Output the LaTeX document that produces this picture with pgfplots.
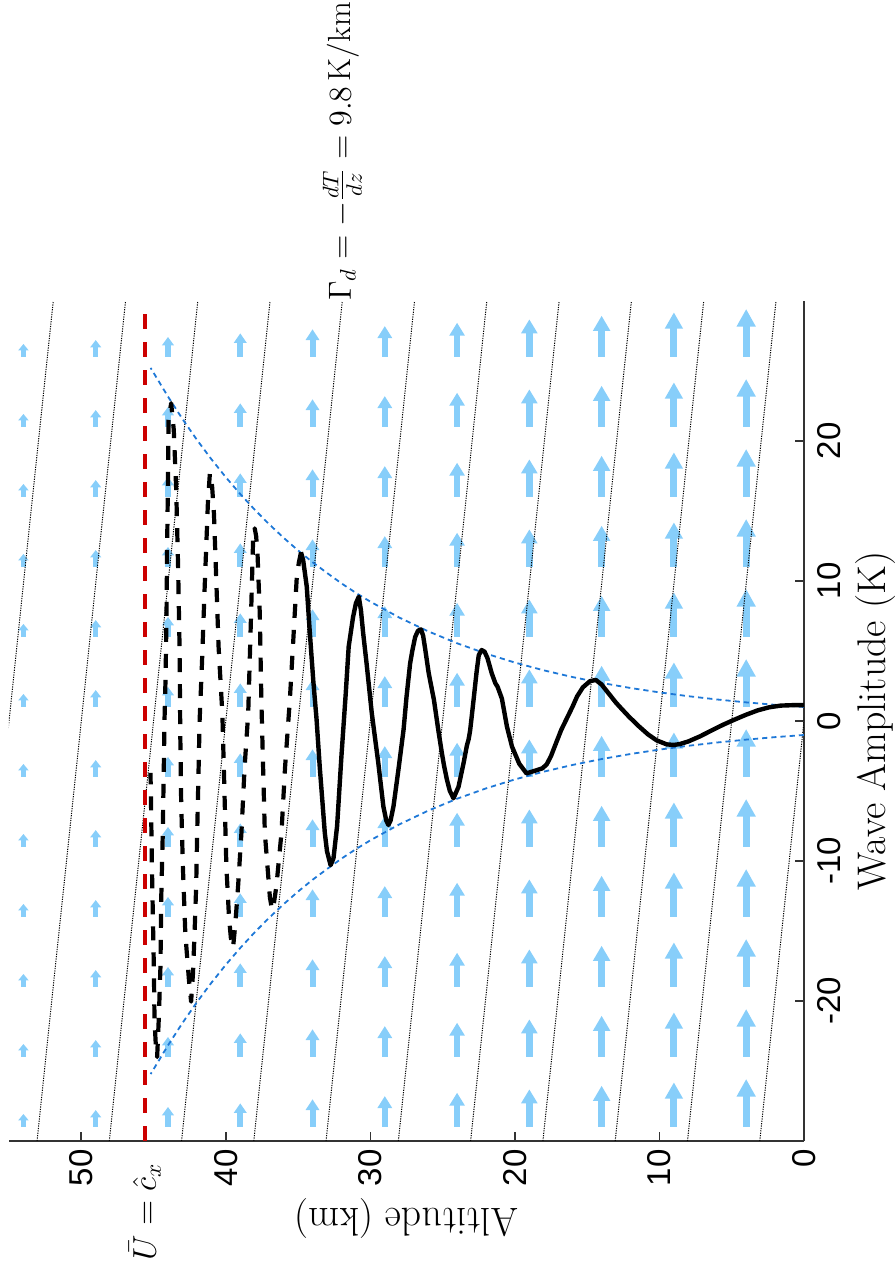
\RequirePackage{fix-cm}
\documentclass[border=0pt]{standalone}
\usepackage{fontspec}
\usepackage{pgfplots}
\pgfplotsset{compat=1.18}
\usetikzlibrary{arrows.meta}
\newfontfamily\tickfont{Liberation Sans}
\definecolor{arrowblue}{RGB}{135,206,250}
\definecolor{envblue}{RGB}{30,120,215}
\definecolor{critred}{RGB}{204,0,0}
\begin{document}
\begin{tikzpicture}
\begin{axis}[
  width=397.5pt, height=420pt, scale only axis,
  xmin=0, xmax=55, ymin=-30, ymax=30,
  x dir=reverse,
  axis x line*=bottom, axis y line*=right,
  axis line style={black!80, line width=0.8pt},
  tick align=inside, major tick length=4.5pt,
  tick style={black!80, line width=0.8pt},
  xtick={0,10,20,30,40,50}, xticklabels={0,10,20,30,40,50},
  ytick={-20,-10,0,10,20}, yticklabels={-20,-10,0,10,20},
  xticklabel style={font=\fontsize{16.5}{19}\selectfont\tickfont, rotate=90, anchor=east, inner xsep=4pt, inner ysep=0pt},
  yticklabel style={font=\fontsize{16.5}{19}\selectfont\tickfont, rotate=90, anchor=north, inner ysep=6.5pt, inner xsep=0pt},
]
% quiver arrows (base altitude, base amplitude), constant length per column
\addplot[arrowblue, line width=3.6pt, quiver={u=0,v=3.43, every arrow/.append style={line width=3.6pt, -{Triangle[length=8.8pt 0 0,width=9pt 0 0]}}}] coordinates {(4,26)(4,21)(4,16)(4,11)(4,6)(4,1)(4,-4)(4,-9)(4,-14)(4,-19)(4,-24)(4,-29)};
\addplot[arrowblue, line width=3.5pt, quiver={u=0,v=3.19, every arrow/.append style={line width=3.5pt, -{Triangle[length=8.2pt 0 0,width=8.6pt 0 0]}}}] coordinates {(9,26)(9,21)(9,16)(9,11)(9,6)(9,1)(9,-4)(9,-9)(9,-14)(9,-19)(9,-24)(9,-29)};
\addplot[arrowblue, line width=3.4pt, quiver={u=0,v=2.95, every arrow/.append style={line width=3.4pt, -{Triangle[length=7.6pt 0 0,width=8.2pt 0 0]}}}] coordinates {(14,26)(14,21)(14,16)(14,11)(14,6)(14,1)(14,-4)(14,-9)(14,-14)(14,-19)(14,-24)(14,-29)};
\addplot[arrowblue, line width=3.3pt, quiver={u=0,v=2.69, every arrow/.append style={line width=3.3pt, -{Triangle[length=7.0pt 0 0,width=7.8pt 0 0]}}}] coordinates {(19,26)(19,21)(19,16)(19,11)(19,6)(19,1)(19,-4)(19,-9)(19,-14)(19,-19)(19,-24)(19,-29)};
\addplot[arrowblue, line width=3.2pt, quiver={u=0,v=2.45, every arrow/.append style={line width=3.2pt, -{Triangle[length=6.5pt 0 0,width=7.4pt 0 0]}}}] coordinates {(24,26)(24,21)(24,16)(24,11)(24,6)(24,1)(24,-4)(24,-9)(24,-14)(24,-19)(24,-24)(24,-29)};
\addplot[arrowblue, line width=3.1pt, quiver={u=0,v=2.21, every arrow/.append style={line width=3.1pt, -{Triangle[length=6.0pt 0 0,width=7.0pt 0 0]}}}] coordinates {(29,26)(29,21)(29,16)(29,11)(29,6)(29,1)(29,-4)(29,-9)(29,-14)(29,-19)(29,-24)(29,-29)};
\addplot[arrowblue, line width=3.0pt, quiver={u=0,v=1.98, every arrow/.append style={line width=3.0pt, -{Triangle[length=5.4pt 0 0,width=6.6pt 0 0]}}}] coordinates {(34,26)(34,21)(34,16)(34,11)(34,6)(34,1)(34,-4)(34,-9)(34,-14)(34,-19)(34,-24)(34,-29)};
\addplot[arrowblue, line width=2.9pt, quiver={u=0,v=1.69, every arrow/.append style={line width=2.9pt, -{Triangle[length=4.8pt 0 0,width=6.2pt 0 0]}}}] coordinates {(39,26)(39,21)(39,16)(39,11)(39,6)(39,1)(39,-4)(39,-9)(39,-14)(39,-19)(39,-24)(39,-29)};
\addplot[arrowblue, line width=2.8pt, quiver={u=0,v=1.43, every arrow/.append style={line width=2.8pt, -{Triangle[length=4.2pt 0 0,width=5.8pt 0 0]}}}] coordinates {(44,26)(44,21)(44,16)(44,11)(44,6)(44,1)(44,-4)(44,-9)(44,-14)(44,-19)(44,-24)(44,-29)};
\addplot[arrowblue, line width=2.7pt, quiver={u=0,v=1.21, every arrow/.append style={line width=2.7pt, -{Triangle[length=3.7pt 0 0,width=5.4pt 0 0]}}}] coordinates {(49,26)(49,21)(49,16)(49,11)(49,6)(49,1)(49,-4)(49,-9)(49,-14)(49,-19)(49,-24)(49,-29)};
\addplot[arrowblue, line width=2.6pt, quiver={u=0,v=0.93, every arrow/.append style={line width=2.6pt, -{Triangle[length=3.2pt 0 0,width=5.0pt 0 0]}}}] coordinates {(54,26)(54,21)(54,16)(54,11)(54,6)(54,1)(54,-4)(54,-9)(54,-14)(54,-19)(54,-24)(54,-29)};
% dry adiabats (dotted)
\addplot[black, line width=0.5pt, dash pattern=on 0.6pt off 0.6pt] coordinates {(3.061,-30)(-3.061,30)};
\addplot[black, line width=0.5pt, dash pattern=on 0.6pt off 0.6pt] coordinates {(8.061,-30)(1.939,30)};
\addplot[black, line width=0.5pt, dash pattern=on 0.6pt off 0.6pt] coordinates {(13.061,-30)(6.939,30)};
\addplot[black, line width=0.5pt, dash pattern=on 0.6pt off 0.6pt] coordinates {(18.061,-30)(11.939,30)};
\addplot[black, line width=0.5pt, dash pattern=on 0.6pt off 0.6pt] coordinates {(23.061,-30)(16.939,30)};
\addplot[black, line width=0.5pt, dash pattern=on 0.6pt off 0.6pt] coordinates {(28.061,-30)(21.939,30)};
\addplot[black, line width=0.5pt, dash pattern=on 0.6pt off 0.6pt] coordinates {(33.061,-30)(26.939,30)};
\addplot[black, line width=0.5pt, dash pattern=on 0.6pt off 0.6pt] coordinates {(38.061,-30)(31.939,30)};
\addplot[black, line width=0.5pt, dash pattern=on 0.6pt off 0.6pt] coordinates {(43.061,-30)(36.939,30)};
\addplot[black, line width=0.5pt, dash pattern=on 0.6pt off 0.6pt] coordinates {(48.061,-30)(41.939,30)};
\addplot[black, line width=0.5pt, dash pattern=on 0.6pt off 0.6pt] coordinates {(53.061,-30)(46.939,30)};
\addplot[black, line width=0.5pt, dash pattern=on 0.6pt off 0.6pt] coordinates {(58.061,-30)(51.939,30)};
% envelopes
\addplot[envblue, line width=0.9pt, dash pattern=on 2.6pt off 2pt] coordinates {(0,1)(2,1.1536)(4,1.3307)(6,1.5352)(8,1.7710)(10,2.0430)(12,2.3568)(14,2.7183)(16,3.1357)(18,3.6173)(20,4.1730)(22,4.8138)(24,5.5531)(26,6.4059)(28,7.3891)(30,8.5238)(31,9.150)(32,9.8329)(33,10.575)(34,11.343)(35,12.182)(36,13.085)(37,14.054)(38,15.094)(39,16.212)(40,17.412)(41,18.701)(42,20.086)(43,21.572)(44,23.171)(45.2,25.22)};
\addplot[envblue, line width=0.9pt, dash pattern=on 2.6pt off 2pt] coordinates {(0,-1)(2,-1.1536)(4,-1.3307)(6,-1.5352)(8,-1.7710)(10,-2.0430)(12,-2.3568)(14,-2.7183)(16,-3.1357)(18,-3.6173)(20,-4.1730)(22,-4.8138)(24,-5.5531)(26,-6.4059)(28,-7.3891)(30,-8.5238)(31,-9.150)(32,-9.8329)(33,-10.575)(34,-11.343)(35,-12.182)(36,-13.085)(37,-14.054)(38,-15.094)(39,-16.212)(40,-17.412)(41,-18.701)(42,-20.086)(43,-21.572)(44,-23.171)(45.2,-25.22)};
% wave, solid part
\addplot[black, line width=2.2pt, line join=round] coordinates {
(0,1.13)(0.8,1.13)(1.6,1.10)(2.4,0.98)(3.2,0.76)(4.0,0.45)(4.8,0.10)(5.6,-0.27)(6.4,-0.68)(7.2,-1.10)(8.0,-1.46)(8.6,-1.65)(9.0,-1.71)
(9.5,-1.67)(10.2,-1.38)(10.8,-0.95)(11.4,-0.40)(12.1,0.30)(12.6,0.85)(13.0,1.30)(13.5,1.95)(14.0,2.60)(14.4,2.93)
(14.8,2.85)(15.3,2.40)(15.7,1.75)(16.0,1.05)(16.4,0.20)(16.8,-0.65)(17.2,-1.70)(17.5,-2.50)(17.8,-3.10)(18.1,-3.38)(18.6,-3.55)(19.2,-3.74)
(19.7,-3.05)(20.2,-1.83)(20.55,-0.40)(20.9,1.60)(21.2,2.45)(21.35,2.69)(21.6,3.40)(21.9,4.50)(22.1,4.95)(22.3,5.07)
(22.5,4.70)(22.65,3.50)(22.86,1.50)(23.0,0.20)(23.1,-0.70)(23.2,-1.30)(23.32,-1.75)(23.55,-3.00)(23.9,-4.70)(24.25,-5.52)
(24.5,-5.00)(24.7,-4.20)(24.9,-3.20)(25.05,-2.30)(25.3,-0.64)(25.6,1.50)(25.96,3.40)(26.2,5.10)(26.35,6.10)(26.5,6.55)
(26.7,6.45)(26.9,6.00)(27.1,5.00)(27.25,4.10)(27.5,1.70)(27.7,-0.60)(28.06,-3.50)(28.4,-6.10)(28.6,-7.10)(28.75,-7.43)
(28.9,-7.10)(29.1,-6.10)(29.45,-3.00)(29.9,0.55)(30.26,4.10)(30.5,6.30)(30.65,7.90)(30.8,8.88)
(31.0,8.40)(31.2,7.40)(31.5,5.30)(31.7,2.00)(32.0,-2.50)(32.3,-7.50)(32.55,-9.80)(32.75,-10.30)
(33.0,-9.30)(33.15,-8.00)(33.5,-3.30)(33.72,0.10)(33.95,2.90)(34.2,6.50)(34.4,9.60)(34.65,11.50)(34.8,12.05)
};
% wave, dashed part
\addplot[black, line width=2.1pt, line join=round, dash pattern=on 7pt off 6pt] coordinates {
(34.8,12.05)(34.95,11.3)(35.1,10.1)(35.33,5.8)(35.57,1.5)(35.9,-3.3)(36.15,-8.0)(36.5,-11.8)(36.7,-13.2)(36.8,-13.5)
(36.95,-12.6)(37.1,-10.6)(37.3,-8.0)(37.42,-3.3)(37.54,1.5)(37.65,7.7)(37.8,11.8)(37.9,13.2)(38.0,13.76)
(38.11,13.0)(38.25,7.7)(38.45,0.55)(38.7,-3.3)(38.92,-8.0)(39.15,-11.8)(39.35,-14.6)(39.5,-16.2)
(39.65,-15.5)(39.78,-14.0)(39.96,-10.4)(40.08,-5.6)(40.2,-0.9)(40.24,0.55)(40.5,5.3)(40.66,10.1)(40.82,14.8)(40.95,16.8)(41.1,17.7)
(41.23,15.8)(41.46,9.6)(41.65,4.1)(41.81,0.07)(41.88,-3.3)(41.98,-8.0)(42.05,-11.8)(42.16,-15.1)(42.27,-18.0)(42.4,-20.05)
(42.55,-18.5)(42.8,-15.2)(42.97,-10.4)(43.09,-5.6)(43.15,-0.9)(43.2,5.3)(43.3,11.0)(43.43,16.5)(43.6,20.8)(43.78,22.7)
(43.96,21.5)(44.0,17.2)(44.06,12.45)(44.1,7.7)(44.17,3.0)(44.24,0.07)(44.29,-3.3)(44.36,-8.0)(44.47,-12.8)(44.52,-17.5)(44.63,-21.1)(44.75,-24.0)
(44.85,-23.0)(44.93,-21.4)(44.98,-17.5)(45.05,-13.7)(45.12,-9.9)(45.17,-6.1)(45.21,-3.7)
};
% critical level
\addplot[critred, line width=1.8pt, dash pattern=on 7.5pt off 6.5pt] coordinates {(45.6,-30)(45.6,30)};
\coordinate (gam) at (axis cs:31.94,30);
\coordinate (ubar) at (axis cs:45.6,-30);
\end{axis}
\node[rotate=90, anchor=west, inner sep=0pt, font=\fontsize{16}{19}\selectfont] at (gam) {$\Gamma_d = -\frac{dT}{dz} = 9.8\,\mathrm{K/km}$};
\node[rotate=90, anchor=east, inner sep=0pt, font=\fontsize{16.5}{19}\selectfont] at ([yshift=-11pt]ubar) {$\bar{U} = \hat{c}_x$};
\node[rotate=180, anchor=south, inner sep=0pt, font=\fontsize{20}{24}\selectfont] at ([yshift=-28.5pt]current axis.south) {Altitude (km)};
\node[rotate=90, anchor=north, inner sep=0pt, font=\fontsize{20}{24}\selectfont] at ([xshift=25.5pt]current axis.east) {Wave Amplitude (K)};
\pgfresetboundingbox
\path[use as bounding box] ([xshift=-4.5pt,yshift=-63.5pt]current axis.south west) rectangle ([xshift=46pt,yshift=150.5pt]current axis.north east);
\end{tikzpicture}
\end{document}
